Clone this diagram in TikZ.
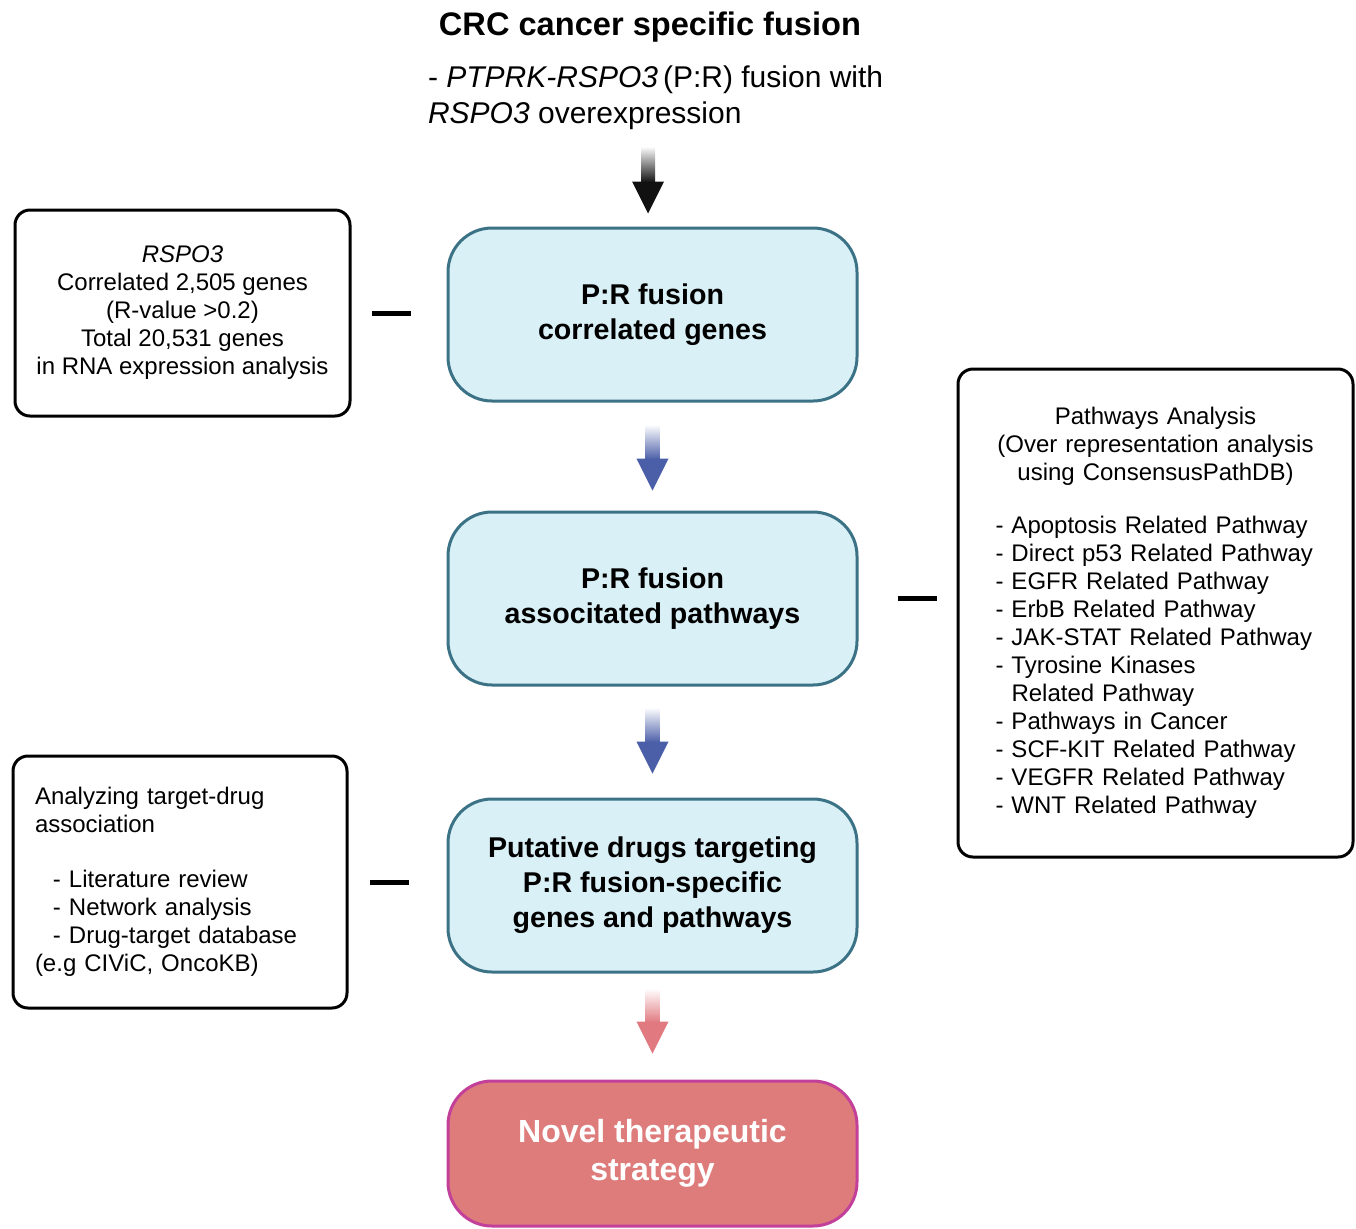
\documentclass[tikz,border=0pt]{standalone}
\usepackage{fontspec}
\setmainfont{Liberation Sans}
\usetikzlibrary{calc,positioning}

\definecolor{boxfill}{HTML}{D9F0F6}
\definecolor{boxline}{HTML}{3B7285}
\definecolor{novelfill}{HTML}{DE7C7C}
\definecolor{novelline}{HTML}{C2409A}
\definecolor{arrowblack}{HTML}{111111}
\definecolor{arrowblue}{HTML}{4B5EA8}
\definecolor{arrowpink}{HTML}{E07A80}

\tikzset{
  mainbox/.style={draw=boxline, fill=boxfill, line width=1.5pt, rounded corners=22pt,
    minimum width=204.5pt, minimum height=86.5pt, inner sep=0pt, align=center,
    font=\fontsize{14.3}{17.5}\selectfont\bfseries},
  sidebox/.style={draw=black, line width=1.5pt, rounded corners=7.5pt,
    font=\fontsize{12}{14}\selectfont},
  link/.style={line width=2.5pt, black},
}

% block arrow with faded tail: colour, start, tip
\newcommand\fatarrow[3]{%
  \shade[top color=white, bottom color=#1] ($(#2)+(-7,0)$) rectangle ($(#3)+(7,-31)$);
  \fill[#1] ($(#3)+(-7,-32)$) -- ($(#3)+(-16,-32)$) -- (#3) -- ($(#3)+(16,-32)$)
    -- ($(#3)+(7,-32)$) -- cycle;}

\begin{document}
\begin{tikzpicture}[x=0.5pt,y=-0.5pt]
\useasboundingbox (0,0) rectangle (1356,1228);

% heading
\node[font=\fontsize{16.3}{20}\selectfont\bfseries] (title) at (650,27) {CRC cancer specific fusion};
\node[anchor=west, align=left, font=\fontsize{15}{18}\selectfont] (sub) at (421,98)
  {- \textit{PTPRK-RSPO3}\,(P:R) fusion with\\\textit{RSPO3} overexpression};

% main flow
\node[mainbox] (corr) at (652.5,314.5) {P:R fusion\\correlated genes};
\node[mainbox] (path) at (652.5,598.5) {P:R fusion\\associtated pathways};
\node[mainbox] (drug) at (652.5,885.5) {Putative drugs targeting\\P:R fusion-specific\\genes and pathways};
\node[mainbox, draw=novelline, fill=novelfill, text=white, minimum height=72.5pt,
  font=\fontsize{16}{19}\selectfont\bfseries] (novel) at (652.5,1153.5) {Novel therapeutic\\strategy};

% side boxes
\node[sidebox, minimum width=167.5pt, minimum height=103pt, align=center] (rspo) at (182.5,313)
  {\textit{RSPO3}\\Correlated 2,505 genes\\(R-value >0.2)\\Total 20,531 genes\\in RNA expression analysis};
\node[sidebox, minimum height=244pt, text width=160pt, inner xsep=18.75pt] (pw) at (1155.5,613)
  {\centering Pathways Analysis\\(Over representation analysis\\using ConsensusPathDB)\par
   \vspace{12.5pt}\raggedright
   - Apoptosis Related Pathway\\
   - Direct p53 Related Pathway\\
   - EGFR Related Pathway\\
   - ErbB Related Pathway\\
   - JAK-STAT Related Pathway\\
   - Tyrosine Kinases\\
   \phantom{- }Related Pathway\\
   - Pathways in Cancer\\
   - SCF-KIT Related Pathway\\
   - VEGFR Related Pathway\\
   - WNT Related Pathway\par};
\node[sidebox, minimum height=126pt, text width=145pt, inner xsep=11pt, align=left] (tgt) at (180,882)
  {Analyzing target-drug\\association\\[13.5pt]
   \hspace*{9pt}- Literature review\\
   \hspace*{9pt}- Network analysis\\
   \hspace*{9pt}- Drug-target database\\
   (e.g CIViC, OncoKB)};

% arrows
\coordinate (a1s) at ($(corr.north)+(-4.5,-80)$);
\coordinate (a1e) at ($(corr.north)+(-4.5,-13)$);
\coordinate (a2s) at ($(corr.south)+(0,22)$);
\coordinate (a2e) at ($(path.north)+(0,-20)$);
\coordinate (a3s) at ($(path.south)+(0,21)$);
\coordinate (a3e) at ($(drug.north)+(0,-24)$);
\coordinate (a4s) at ($(drug.south)+(0,15)$);
\coordinate (a4e) at ($(novel.north)+(0,-26)$);
\fatarrow{arrowblack}{a1s}{a1e}
\fatarrow{arrowblue}{a2s}{a2e}
\fatarrow{arrowblue}{a3s}{a3e}
\fatarrow{arrowpink}{a4s}{a4e}

% dashes to side boxes
\draw[link, shorten <=10pt, shorten >=18pt] (rspo.east) -- (rspo.east -| corr.west);
\draw[link, shorten <=19.5pt, shorten >=10pt] (path.east) -- (path.east -| pw.west);
\draw[link, shorten <=10.5pt, shorten >=19pt] (tgt.east) -- (tgt.east -| drug.west);
\end{tikzpicture}
\end{document}
